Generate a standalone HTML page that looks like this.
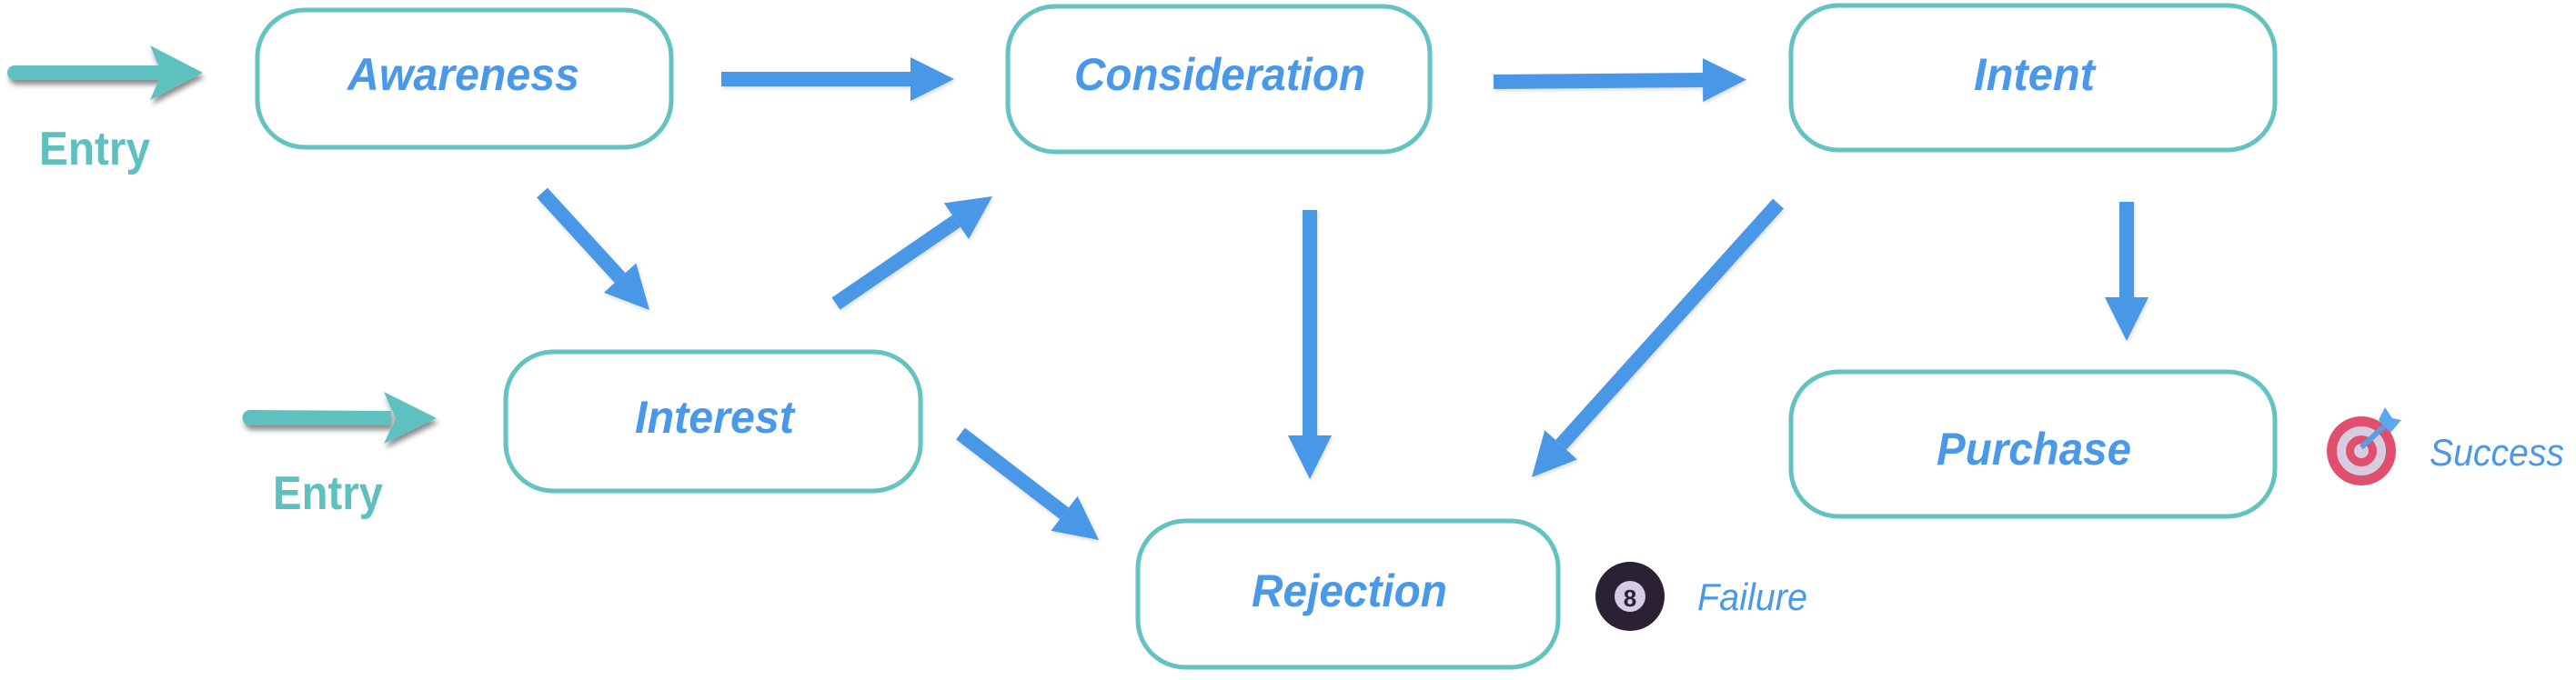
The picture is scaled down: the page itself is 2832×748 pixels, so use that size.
<!DOCTYPE html>
<html><head><meta charset="utf-8"><style>
html,body{margin:0;padding:0;background:#fff;}
svg{display:block;}
</style></head><body>
<svg width="2832" height="748" viewBox="0 0 2832 748" xmlns="http://www.w3.org/2000/svg">
<defs>
<marker id="h" viewBox="0 0 10 10" refX="0" refY="5" markerWidth="3" markerHeight="3" orient="auto" markerUnits="strokeWidth">
<path d="M0,0 L10,5 L0,10 z" fill="#4a98e8"/></marker>
<filter id="sh" x="-20%" y="-50%" width="140%" height="200%"><feDropShadow dx="2" dy="5" stdDeviation="3" flood-color="#000" flood-opacity="0.45"/></filter>
<filter id="sh2" x="-20%" y="-20%" width="140%" height="140%"><feDropShadow dx="1" dy="2" stdDeviation="2" flood-color="#000" flood-opacity="0.15"/></filter>
</defs>
<g fill="none" stroke="#62c3c0" stroke-width="5">
<rect x="283" y="11" width="455" height="151" rx="52"/>
<rect x="1108" y="7" width="464" height="160" rx="52"/>
<rect x="1969" y="6" width="532" height="159" rx="52"/>
<rect x="556" y="387" width="456" height="153" rx="52"/>
<rect x="1969" y="409" width="532" height="159" rx="52"/>
<rect x="1251" y="573" width="462" height="161" rx="52"/>
</g>
<g stroke="#4a98e8" stroke-width="16" marker-end="url(#h)" filter="url(#sh2)">
<line x1="793" y1="87" x2="1001" y2="87"/>
<line x1="1642" y1="90" x2="1872" y2="88"/>
<line x1="1440" y1="231" x2="1440" y2="479"/>
<line x1="2338" y1="222" x2="2338" y2="327"/>
<line x1="596" y1="212" x2="681.6" y2="305.6"/>
<line x1="919" y1="334" x2="1051.4" y2="243.2"/>
<line x1="1056" y1="477" x2="1170" y2="564.7"/>
<line x1="1955" y1="224" x2="1716.1" y2="489.3"/>
</g>
<g filter="url(#sh)" fill="#5fc1bf">
<path d="M16,72 L178,72 L178,88 L16,88 A8,8 0 0 1 16,72 z"/>
<polygon points="165,50 223,80 165,110 178,80"/>
<path d="M275,451 L430,452 L430,468 L275,468 A8,8 0 0 1 275,451 z"/>
<polygon points="422,431 480,460 422,488 435,460"/>
</g>
<g font-family="Liberation Sans, sans-serif" font-weight="bold" font-style="italic" fill="#4a98e8" font-size="50">
<text x="382" y="99" textLength="255" lengthAdjust="spacingAndGlyphs">Awareness</text>
<text x="1181" y="99" textLength="320" lengthAdjust="spacingAndGlyphs">Consideration</text>
<text x="2170" y="99" textLength="133" lengthAdjust="spacingAndGlyphs">Intent</text>
<text x="698" y="476" textLength="175" lengthAdjust="spacingAndGlyphs">Interest</text>
<text x="2129" y="511" textLength="214" lengthAdjust="spacingAndGlyphs">Purchase</text>
<text x="1376" y="667" textLength="215" lengthAdjust="spacingAndGlyphs">Rejection</text>
</g>
<g font-family="Liberation Sans, sans-serif" font-weight="bold" fill="#5fc1bf" font-size="52">
<text x="43" y="181" textLength="122" lengthAdjust="spacingAndGlyphs">Entry</text>
<text x="300" y="560" textLength="121" lengthAdjust="spacingAndGlyphs">Entry</text>
</g>
<g font-family="Liberation Sans, sans-serif" font-style="italic" fill="#4a98e8" font-size="42">
<text x="1866" y="671" textLength="121" lengthAdjust="spacingAndGlyphs">Failure</text>
<text x="2671" y="512" textLength="148" lengthAdjust="spacingAndGlyphs">Success</text>
</g>
<circle cx="1792" cy="656" r="38" fill="#2a2232"/>
<circle cx="1792" cy="656" r="17" fill="#d4cde4"/>
<text x="1792" y="667" text-anchor="middle" font-family="Liberation Sans, sans-serif" font-weight="bold" font-size="26" fill="#2a2232">8</text>
<ellipse cx="2596" cy="496" rx="38" ry="38" fill="#e0506e"/>
<ellipse cx="2596" cy="496" rx="27" ry="27" fill="#d8cde0"/>
<ellipse cx="2596" cy="496" rx="17" ry="17" fill="#e0506e"/>
<ellipse cx="2596" cy="496" rx="8" ry="8" fill="#d8cde0"/>
<line x1="2596" y1="492" x2="2622" y2="468" stroke="#5a9de0" stroke-width="6"/>
<path d="M2615,462 L2622,448 L2630,460 L2640,462 L2628,476 z" fill="#5aa8ee"/>
</svg>
</body></html>
